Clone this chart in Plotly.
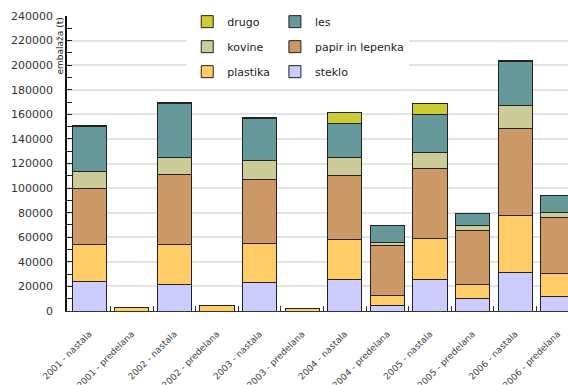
import plotly.graph_objects as go

# Packaging waste by material, generated ("nastala") vs. recycled ("predelana"), tonnes
categories = [
    "2001 - nastala", "2001 - predelana",
    "2002 - nastala", "2002 - predelana",
    "2003 - nastala", "2003 - predelana",
    "2004 - nastala", "2004 - predelana",
    "2005 - nastala", "2005 - predelana",
    "2006 - nastala", "2006 - predelana",
]

steklo = [23600, 0, 21400, 0, 23000, 0, 26000, 4600, 25400, 10000, 31100, 11900]
plastika = [30700, 3200, 32300, 4600, 32000, 2100, 32200, 8100, 33600, 11600, 46900, 18400]
papir_in_lepenka = [45700, 0, 57100, 0, 52300, 0, 52000, 40400, 56700, 43900, 70800, 46100]
kovine = [13500, 0, 13800, 0, 14900, 0, 14400, 2700, 13000, 3800, 18400, 3800]
les = [36600, 0, 44500, 0, 34100, 0, 28200, 13500, 31200, 10400, 36100, 13800]
drugo = [700, 0, 900, 0, 1000, 0, 8700, 0, 8900, 0, 800, 0]

y_ticks = list(range(0, 240001, 20000))

# stacked bottom-to-top; (name, values, colour, legend)
series = [
    ("steklo", steklo, "#CCCCFF", "legend2"),
    ("plastika", plastika, "#FFCC66", "legend"),
    ("papir in lepenka", papir_in_lepenka, "#CC9966", "legend2"),
    ("kovine", kovine, "#CCCC99", "legend"),
    ("les", les, "#669999", "legend2"),
    ("drugo", drugo, "#CCCC33", "legend"),
]
legend_rank = {"drugo": 1, "kovine": 2, "plastika": 3,
               "les": 1, "papir in lepenka": 2, "steklo": 3}

fig = go.Figure()
for name, vals, color, leg in series:
    fig.add_trace(go.Bar(
        x=categories, y=vals, name=name,
        marker=dict(color=color, line=dict(color="#222222", width=1)),
        width=0.8, legend=leg, legendrank=legend_rank[name],
        legendgroup=name,
    ))

legend_common = dict(
    bgcolor="white", borderwidth=0, orientation="v",
    xanchor="left", yanchor="top", y=1.03,
    font=dict(family="DejaVu Sans", size=11, color="#222222"),
    traceorder="grouped", tracegroupgap=6,
    itemclick=False, itemdoubleclick=False,
)

fig.update_layout(
    width=568, height=385,
    margin=dict(l=67, r=0, t=16, b=74),
    paper_bgcolor="white", plot_bgcolor="white",
    barmode="stack", bargap=0.2,
    font=dict(family="DejaVu Sans", size=11, color="#333333"),
    legend=dict(**legend_common, x=0.24),
    legend2=dict(**legend_common, x=0.415),
    xaxis=dict(
        type="category", range=[-0.52, 11.24], automargin=False,
        tickangle=-45, tickfont=dict(size=9, color="#444444"),
        ticks="inside", ticklen=5, tickcolor="#333333",
        tickson="boundaries", ticklabelstandoff=13,
        showline=True, linecolor="#333333", linewidth=1,
        showgrid=False, zeroline=False,
    ),
    yaxis=dict(
        range=[0, 240000], tickvals=y_ticks, automargin=False,
        ticktext=[str(v) for v in y_ticks],
        tickfont=dict(size=11, color="#333333"),
        ticks="inside", ticklen=5, tickcolor="#222222",
        ticklabelstandoff=10,
        minor=dict(dtick=10000, ticks="inside", ticklen=5, tickcolor="#222222", showgrid=False),
        showline=True, linecolor="#111111", linewidth=1.5,
        showgrid=True, gridcolor="#e3e3e3", gridwidth=1.5,
        zeroline=False,
    ),
    annotations=[dict(
        text="embalaža (t)", textangle=-90,
        xref="paper", yref="paper", x=0, y=1,
        xanchor="right", yanchor="top", xshift=-1,
        showarrow=False, font=dict(family="DejaVu Sans", size=9, color="#222222"),
    )],
)

fig.write_html("out.html")
